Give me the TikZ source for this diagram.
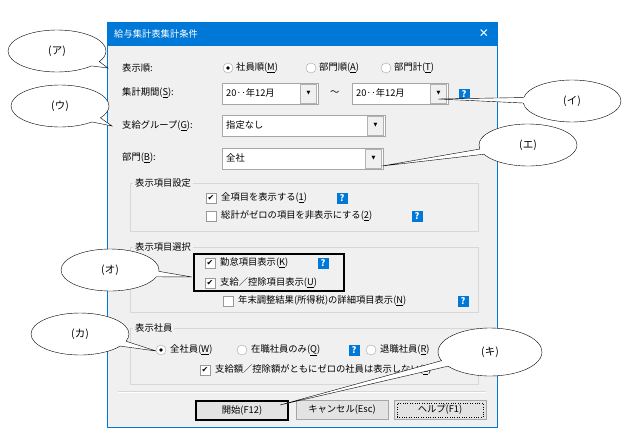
\documentclass[tikz,border=0pt]{standalone}
\usepackage{fontspec}
\setmainfont{Noto Sans CJK JP}
\newfontfamily\sym{DejaVu Sans}
\usetikzlibrary{shapes.callouts,shapes.geometric,calc}
\definecolor{winblue}{RGB}{0,120,215}
\definecolor{dlg}{RGB}{240,240,240}
\definecolor{grp}{RGB}{215,215,215}
\newcommand{\ddarrow}{{\sym\fontsize{5}{5}\selectfont ▼}}
\newcommand{\chk}{{\sym\fontsize{8}{8}\selectfont ✔}}
\tikzset{
 lbl/.style={anchor=west,font=\fontsize{9.3}{11}\selectfont,inner sep=0pt},
 combo/.style={draw=gray!70,fill=white,minimum height=21pt,anchor=north west,inner sep=0pt},
 ddbtn/.style={draw=gray!60,fill=dlg,minimum width=16pt,minimum height=19pt,inner sep=0pt},
 help/.style={fill=winblue,text=white,minimum size=11pt,inner sep=0pt,font=\bfseries\fontsize{9}{9}\selectfont},
 cbox/.style={draw=gray!80,fill=white,minimum size=10pt,inner sep=0pt},
 radio/.style={circle,draw=gray!70,fill=white,minimum size=10pt,inner sep=0pt},
 grpbox/.style={draw=grp,thin},
 btn/.style={draw=gray!70,fill=grp!70,minimum height=19pt,inner sep=0pt,font=\fontsize{9.3}{11}\selectfont},
 call/.style={ellipse callout,draw,fill=white,font=\fontsize{10.5}{12}\selectfont,minimum width=98pt,minimum height=42pt}
}
\begin{document}
\begin{tikzpicture}[x=1pt,y=-1pt]
\useasboundingbox (0,0) rectangle (642,436);
\fill[white] (0,0) rectangle (642,436);
% dialog
\node[draw=winblue,fill=dlg,minimum width=390pt,minimum height=405pt,anchor=north west,inner sep=0pt] (dlg) at (107,22) {};
\fill[winblue] (107,22) rectangle (497,46);
\node[lbl,text=white] (title) at (114,34) {給与集計表集計条件};
\node[text=white,font=\sym\fontsize{12}{12}\selectfont] (close) at (484,34) {✕};
% row 1
\node[lbl] (l1) at (122,68) {表示順:};
\node[radio] (r1) at (228,68) {}; \fill (r1) circle (1.8pt);
\node[lbl] (t1) at (236,68) {社員順(\underline{M})};
\node[radio] (r2) at (311,68) {};
\node[lbl] (t2) at (319,68) {部門順(\underline{A})};
\node[radio] (r3) at (386,68) {};
\node[lbl] (t3) at (394,68) {部門計(\underline{T})};
% row 2
\node[lbl] (l2) at (122,93) {集計期間(\underline{S}):};
\node[combo,minimum width=96pt] (c1) at (222,83) {};
\node[lbl] at (226,93) {20‥年12月};
\node[ddbtn] (d1) at (308.5,93.5) {\ddarrow};
\node[lbl] (tilde) at (330,93) {～};
\node[combo,minimum width=96pt] (c2) at (352,83) {};
\node[lbl] at (356,93) {20‥年12月};
\node[ddbtn] (d2) at (438.5,93.5) {\ddarrow};
\node[help] (h1) at (464,94) {?};
% row 3
\node[lbl] (l3) at (122,126) {支給グループ(\underline{G}):};
\node[combo,minimum width=163pt] (c3) at (222,115) {};
\node[lbl] at (226,125) {指定なし};
\node[ddbtn] (d3) at (375.5,125.5) {\ddarrow};
% row 4
\node[lbl] (l4) at (122,158) {部門(\underline{B}):};
\node[combo,minimum width=161pt] (c4) at (222,148) {};
\node[lbl] at (226,158) {全社};
\node[ddbtn] (d4) at (373.5,158.5) {\ddarrow};
% group 1
\draw[grpbox] (130,183) rectangle (478,231);
\node[lbl,fill=dlg,inner xsep=2pt] (g1) at (133,183) {表示項目設定};
\node[cbox] (cb1) at (211,198) {\chk};
\node[lbl] at (221,198) {全項目を表示する(\underline{1})};
\node[help] at (342,198) {?};
\node[cbox] (cb2) at (211,216) {};
\node[lbl] at (221,216) {総計がゼロの項目を非表示にする(\underline{2})};
\node[help] at (417,216) {?};
% group 2
\draw[grpbox] (130,247) rectangle (478,312);
\node[lbl,fill=dlg,inner xsep=2pt] (g2) at (133,247) {表示項目選択};
\node[cbox] (cb3) at (210,263) {\chk};
\node[lbl] at (220,263) {勤怠項目表示(\underline{K})};
\node[help] at (323,263) {?};
\node[cbox] (cb4) at (210,283) {\chk};
\node[lbl] at (220,283) {支給／控除項目表示(\underline{U})};
\draw[line width=2pt] (194,254) rectangle (344,291);
\node[cbox] (cb5) at (228,301) {};
\node[lbl] at (238,301) {年末調整結果(所得税)の詳細項目表示(\underline{N})};
\node[help] at (463,301) {?};
% group 3
\draw[grpbox] (130,328) rectangle (478,384);
\node[lbl,fill=dlg,inner xsep=2pt] (g3) at (133,328) {表示社員};
\node[radio] (r4) at (161,350) {}; \fill (r4) circle (1.8pt);
\node[lbl] at (170,350) {全社員(\underline{W})};
\node[radio] (r5) at (242,350) {};
\node[lbl] at (251,350) {在職社員のみ(\underline{Q})};
\node[help] at (354,350) {?};
\node[radio] (r6) at (371,350) {};
\node[lbl] at (380,350) {退職社員(\underline{R})};
\node[cbox] (cb6) at (205,370) {\chk};
\node[lbl] at (215,370) {支給額／控除額がともにゼロの社員は表示しない(\underline{E})};
% separator
\draw[grp] (118,391) -- (486,391);
\draw[white] (118,392) -- (486,392);
% buttons
\node[btn,minimum width=92pt,line width=2pt,draw=black] (b1) at (242,410) {開始(F12)};
\node[btn,minimum width=92pt] (b2) at (342,410) {キャンセル(Esc)};
\node[btn,minimum width=92pt] (b3) at (440,410) {ヘルプ(F1)};
\draw[dotted] ($(b3.south west)+(3,-3)$) rectangle ($(b3.north east)+(-3,3)$);
% callouts
\coordinate (pa) at (108,68);
\coordinate (pi) at (438,99);
\coordinate (pu) at (112,126);
\coordinate (pe) at (382,166);
\coordinate (po) at (192,277);
\coordinate (pk) at (156,351);
\coordinate (pki) at (280,405);
\node[call,callout absolute pointer={(pa)}] (ca) at (57,51) {(ア)};
\node[call,callout absolute pointer={(pi)}] (ci) at (572,101) {(イ)};
\node[call,callout absolute pointer={(pu)}] (cu) at (60,106) {(ウ)};
\node[call,callout absolute pointer={(pe)}] (ce) at (528,145) {(エ)};
\node[call,callout absolute pointer={(po)}] (co) at (110,270) {(オ)};
\node[call,callout absolute pointer={(pk)}] (ck) at (80,334) {(カ)};
\node[call,callout absolute pointer={(pki)},minimum width=104pt,minimum height=48pt] (cki) at (490,352) {(キ)};
\end{tikzpicture}
\end{document}
